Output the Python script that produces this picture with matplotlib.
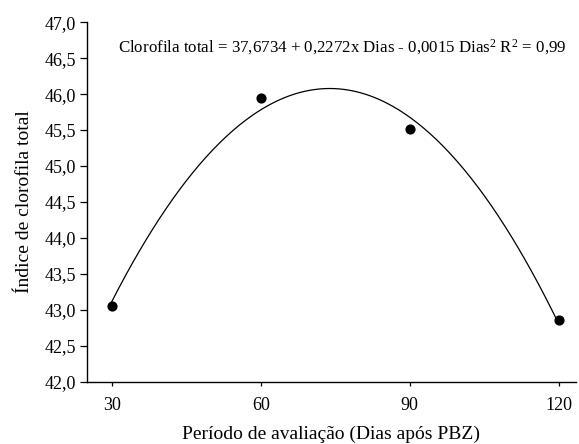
import numpy as np
import matplotlib
matplotlib.use("Agg")
import matplotlib.pyplot as plt

plt.rcParams['font.family'] = ['Liberation Serif', 'DejaVu Serif']
plt.rcParams['mathtext.fontset'] = 'custom'
plt.rcParams['mathtext.rm'] = 'Liberation Serif'
plt.rcParams['mathtext.it'] = 'Liberation Serif:italic'

# Dados
dias = [30, 60, 90, 120]
clorofila = [43.06, 45.94, 45.52, 42.86]
yticks = [42.0, 42.5, 43.0, 43.5, 44.0, 44.5, 45.0, 45.5, 46.0, 46.5, 47.0]
xticks = [30, 60, 90, 120]

# Ajuste quadrático (regressão)
coef = np.polyfit(dias, clorofila, 2)
xs = np.linspace(min(dias), max(dias), 200)
ys = np.polyval(coef, xs)

fig = plt.figure(figsize=(5.79, 4.44), dpi=100)
ax = fig.add_axes([0.150, 0.140, 0.845, 0.810])

ax.plot(xs, ys, color='black', lw=0.9)
ax.scatter(dias, clorofila, s=40, color='black', zorder=3)

ax.set_xlim(25, 123.5)
ax.set_ylim(42.0, 47.0)
ax.set_xticks(xticks)
ax.set_yticks(yticks)
ax.set_yticklabels([f"{v:.1f}".replace('.', ',') for v in yticks])

for s in ['top', 'right']:
    ax.spines[s].set_visible(False)
for s in ['left', 'bottom']:
    ax.spines[s].set_linewidth(1.0)
ax.tick_params(axis='y', direction='out', length=5, width=0.9, labelsize=13, pad=3)
ax.tick_params(axis='x', direction='out', length=3, width=0.9, labelsize=13, pad=8)

ax.set_xlabel('Período de avaliação (Dias após PBZ)', fontsize=14, labelpad=8)
ax.set_ylabel('Índice de clorofila total', fontsize=14, labelpad=8)

ax.text(0.521, 0.93,
        r'Clorofila total = 37,6734 + 0,2272x Dias - 0,0015 Dias$^{\mathrm{2}}$ R$^{\mathrm{2}}$ = 0,99',
        transform=ax.transAxes, ha='center', va='center', fontsize=12.2)

fig.savefig('out.png', dpi=100)
